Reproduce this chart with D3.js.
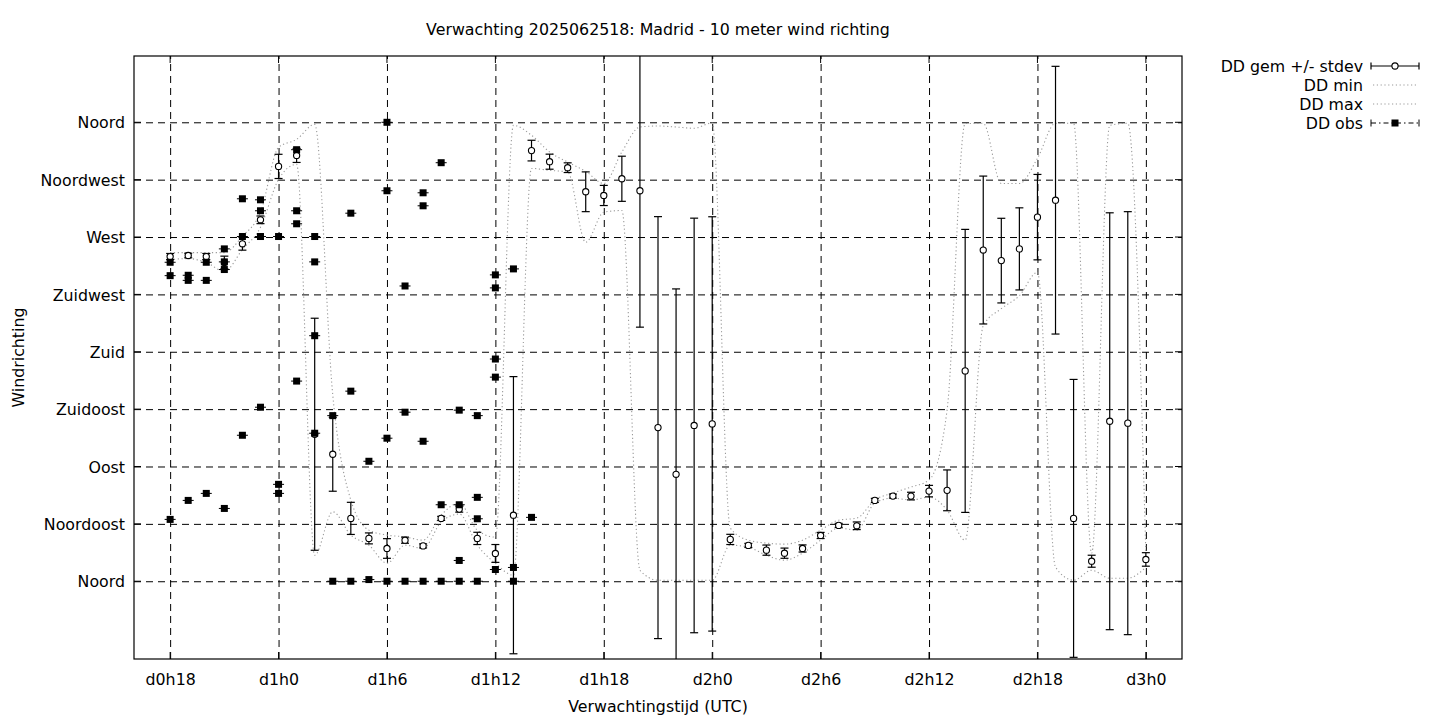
<!DOCTYPE html>
<html><head><meta charset="utf-8">
<script src="https://cdn.jsdelivr.net/npm/d3@7"></script>
<style>
body{margin:0;background:#fff}
text{font-family:"DejaVu Sans",sans-serif;font-size:15.8px;fill:#000}
</style>
</head><body>
<svg id="chart" width="1440" height="720"></svg>
<script>
// forecast hours (hours since d0h0)
const hours = [18,19,20,21,22,23,24,25,26,27,28,29,30,31,32,33,34,35,36,37,38,39,40,41,42,43,44,45,46,47,48,49,50,51,52,53,54,55,56,57,58,59,60,61,62,63,64,65,66,67,68,69,70,71,72];
const ddMean = [254.7,255.5,254.7,250,264.7,283.5,325.4,334,115.3,99.6,49.3,33.6,25.7,32.2,27.7,49.3,56.6,33.6,21.8,51.8,337.8,329.1,324.4,305.5,302.6,315.7,306.3,120.5,83.9,122.2,123.4,32.8,28.1,24.4,22,25.7,35.9,43.8,43.5,63.4,66.8,66.8,70.7,71.3,165,259.8,251.5,260.7,285.6,298.9,49.3,15.7,125.5,124,17.1];
const ddStdev = [2.4,1.8,2.4,5,5,3,9.5,5.5,91,29,12.6,4.3,7.7,2.4,1.6,1.6,2.4,4.8,7,108.7,8.1,5.9,3.8,15.6,7.9,17.7,107,165.5,145.4,162.6,162.5,4,1.6,4,4,2.8,2.4,1.6,3,1.6,1.6,3,4.5,16,111,58,33.2,32.2,33.5,105,109,4.7,163.5,165.9,5.3];
const ddMin = [252.3,253.1,250,243.1,260.2,277.6,315.2,327,20.4,54.5,36.2,28.3,14.1,28.3,25.7,46.4,52.7,28.3,14.1,4.7,323.8,322.3,320.9,265.9,289.5,290.8,8.6,0.8,0.8,0.8,0.8,28.3,26.7,20.4,16.5,22,32.2,41.7,40.1,61.3,65.2,63.7,66,55.8,32.2,200.4,213.8,224,242.3,11,0.8,8.6,2.4,2.4,11];
const ddMax = [257.8,257.8,257.8,257.8,270.6,289.3,340.3,346.6,358.4,146.2,63.7,40.1,36.2,34.8,32.2,51.9,61.3,40.1,34.6,357.6,349.8,336.7,328.8,321.5,312,336.7,356.3,357.1,356.3,355.3,359.5,41.7,32.2,29.9,29.1,32.2,40.1,47.9,49.5,63.7,69.2,73.9,79.4,134.4,359,359.2,312,312,331.7,359.2,359.2,22,357.6,359.2,22];
// observations
const obsHour = [18,18,18, 19,19,19, 20,20,20, 21,21,21,21, 22,22,22, 23,23,23,23, 24,24,24, 25,25,25,25, 26,26,26,26, 27,27, 28,28,28, 29,29, 30,30,30,30, 31,31,31, 32,32,32,32, 33,33,33, 34,34,34,34, 35,35,35,35, 36,36,36,36,36, 37,37,37, 38];
const obsDir = [250.2,239.7,48.5, 240,236,63.4, 250.2,236,68.9, 260.7,250.5,244.5,57.1, 300,270.4,114.5, 299.2,290.6,270.4,136.5, 270.4,76,68.9, 338.5,290.6,280.4,157, 270.4,250.5,192.6,116.1, 129.9,0, 288.7,149.1,0, 94.1,1.3, 360,306.3,112.2,0, 231.6,132.6,0, 304.7,294.5,109.8,0, 328.3,60,0, 134.2,60,16.3,0, 129.9,65.8,49,0, 240.3,230.1,174.3,160.1,9.2, 245,10.8,0, 50.1];
const yTickValues = [0,45,90,135,180,225,270,315,360];
const yTickLabels = ["Noord","Noordoost","Oost","Zuidoost","Zuid","Zuidwest","West","Noordwest","Noord"];
const xTickValues = [18,24,30,36,42,48,54,60,66,72];
const xTickLabels = ["d0h18","d1h0","d1h6","d1h12","d1h18","d2h0","d2h6","d2h12","d2h18","d3h0"];
const legendLabels = ["DD gem +/- stdev","DD min","DD max","DD obs"];
const titleText = "Verwachting 2025062518: Madrid - 10 meter wind richting";

const L=134,R=1182,T=56,B=659;
const svg = d3.select("#chart");
const x = d3.scaleLinear().domain([16,74]).range([L,R]);
const y = d3.scaleLinear().domain([-61,412]).range([B,T]);

svg.append("defs").append("clipPath").attr("id","clip")
  .append("rect").attr("x",L).attr("y",T).attr("width",R-L).attr("height",B-T);

// grid
const grid = svg.append("g");
grid.append("g").attr("transform",`translate(0,${B})`)
  .call(d3.axisBottom(x).tickValues(xTickValues).tickSize(-(B-T)).tickFormat(""))
  .call(g=>{g.select(".domain").remove();g.selectAll("line").attr("stroke","#000").attr("stroke-dasharray","7,5");});
grid.append("g").attr("transform",`translate(${L},0)`)
  .call(d3.axisLeft(y).tickValues(yTickValues).tickSize(-(R-L)).tickFormat(""))
  .call(g=>{g.select(".domain").remove();g.selectAll("line").attr("stroke","#000").attr("stroke-dasharray","7,5");});

// small solid border ticks
const bt = svg.append("g").attr("stroke","#000");
xTickValues.forEach(v=>{
  bt.append("line").attr("x1",x(v)).attr("x2",x(v)).attr("y1",B).attr("y2",B-7);
  bt.append("line").attr("x1",x(v)).attr("x2",x(v)).attr("y1",T).attr("y2",T+7);
});
yTickValues.forEach(v=>{
  bt.append("line").attr("x1",L).attr("x2",L+7).attr("y1",y(v)).attr("y2",y(v));
  bt.append("line").attr("x1",R).attr("x2",R-7).attr("y1",y(v)).attr("y2",y(v));
});

// axes labels
svg.append("g").attr("transform",`translate(0,${B})`)
  .call(d3.axisBottom(x).tickValues(xTickValues).tickSize(0).tickPadding(0).tickFormat((d,i)=>xTickLabels[i]))
  .call(g=>{g.select(".domain").remove();g.selectAll("text").attr("y",26).attr("dy",null).attr("fill","#000")
    .style("font-family",'"DejaVu Sans",sans-serif').style("font-size","15.8px");});
svg.append("g").attr("transform",`translate(${L},0)`)
  .call(d3.axisLeft(y).tickValues(yTickValues).tickSize(0).tickPadding(9).tickFormat((d,i)=>yTickLabels[i]))
  .call(g=>{g.select(".domain").remove();g.selectAll("text").attr("dy","0.36em").attr("fill","#000")
    .style("font-family",'"DejaVu Sans",sans-serif').style("font-size","15.8px");});

const plot = svg.append("g").attr("clip-path","url(#clip)");

// min / max lines
const lineMin = d3.line().x((d,i)=>x(hours[i])).y(d=>y(d)).curve(d3.curveMonotoneX);
[ddMin, ddMax].forEach(arr=>{
  plot.append("path").attr("d",lineMin(arr)).attr("fill","none")
    .attr("stroke","#9a9a9a").attr("stroke-width",1.1).attr("stroke-dasharray","1.2,2.6");
});

// error bars
const eb = plot.append("g").attr("stroke","#000").attr("stroke-width",1.2);
hours.forEach((h,i)=>{
  const cx=x(h), y1=y(ddMean[i]-ddStdev[i]), y2=y(ddMean[i]+ddStdev[i]);
  eb.append("line").attr("x1",cx).attr("x2",cx).attr("y1",y1).attr("y2",y2);
  eb.append("line").attr("x1",cx-4).attr("x2",cx+4).attr("y1",y1).attr("y2",y1);
  eb.append("line").attr("x1",cx-4).attr("x2",cx+4).attr("y1",y2).attr("y2",y2);
});
plot.append("g").selectAll("circle").data(ddMean).join("circle")
  .attr("cx",(d,i)=>x(hours[i])).attr("cy",d=>y(d)).attr("r",3.1)
  .attr("fill","#fff").attr("stroke","#000").attr("stroke-width",1.1);

// observations
const og = plot.append("g");
obsDir.forEach((d,i)=>{
  const cx=x(obsHour[i]), cy=y(d);
  og.append("line").attr("x1",cx-5.5).attr("x2",cx+5.5).attr("y1",cy).attr("y2",cy).attr("stroke","#000");
  og.append("rect").attr("x",cx-3.5).attr("y",cy-3.5).attr("width",7).attr("height",7).attr("fill","#000");
});

// border
svg.append("rect").attr("x",L).attr("y",T).attr("width",R-L).attr("height",B-T)
  .attr("fill","none").attr("stroke","#000").attr("stroke-width",1.2);

// title & axis titles
svg.append("text").attr("x",(L+R)/2).attr("y",35).attr("text-anchor","middle").text(titleText);
svg.append("text").attr("x",(L+R)/2).attr("y",712).attr("text-anchor","middle").text("Verwachtingstijd (UTC)");
svg.append("text").attr("transform",`translate(24,${(T+B)/2}) rotate(-90)`).attr("text-anchor","middle").text("Windrichting");

// legend
const lg = svg.append("g");
const rowsY = [66,85,104,123];
const sx1=1371, sx2=1419, smid=1395;
legendLabels.forEach((t,i)=>{
  lg.append("text").attr("x",1363).attr("y",rowsY[i]).attr("dy","0.36em").attr("text-anchor","end").text(t);
});
// gem
lg.append("line").attr("x1",sx1).attr("x2",sx2).attr("y1",rowsY[0]).attr("y2",rowsY[0]).attr("stroke","#000").attr("stroke-width",1.2);
[sx1,sx2].forEach(v=>lg.append("line").attr("x1",v).attr("x2",v).attr("y1",rowsY[0]-3.5).attr("y2",rowsY[0]+3.5).attr("stroke","#000").attr("stroke-width",1.2));
lg.append("circle").attr("cx",smid).attr("cy",rowsY[0]).attr("r",3.1).attr("fill","#fff").attr("stroke","#000").attr("stroke-width",1.1);
// min/max
[1,2].forEach(i=>lg.append("line").attr("x1",sx1+2).attr("x2",sx2-1).attr("y1",rowsY[i]).attr("y2",rowsY[i])
  .attr("stroke","#9a9a9a").attr("stroke-width",1.1).attr("stroke-dasharray","1.2,2.6"));
// obs
lg.append("line").attr("x1",sx1).attr("x2",sx2).attr("y1",rowsY[3]).attr("y2",rowsY[3]).attr("stroke","#000").attr("stroke-dasharray","5,3,1.5,3");
[sx1,sx2].forEach(v=>lg.append("line").attr("x1",v).attr("x2",v).attr("y1",rowsY[3]-3.5).attr("y2",rowsY[3]+3.5).attr("stroke","#000"));
lg.append("rect").attr("x",smid-3.5).attr("y",rowsY[3]-3.5).attr("width",7).attr("height",7).attr("fill","#000");
</script>
</body></html>
